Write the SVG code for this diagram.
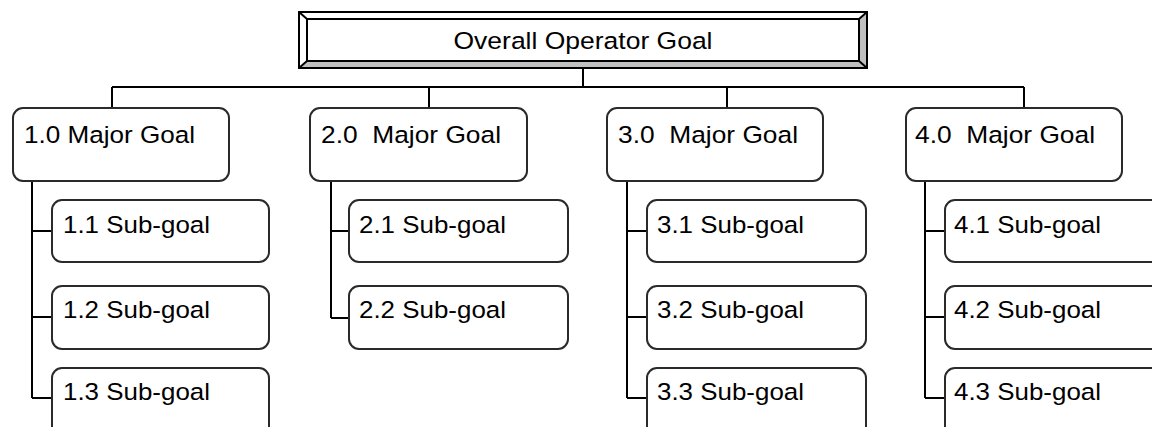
<svg xmlns="http://www.w3.org/2000/svg" width="1152" height="427" viewBox="0 0 1152 427">
  <style>
    text { font-family: "Liberation Sans", Arial, sans-serif; font-size: 24.5px; fill: #000; white-space: pre; }
    .box { fill: #fff; stroke: #2a2a2a; stroke-width: 2; }
    .wire { fill: none; stroke: #000; stroke-width: 2; }
    .frame { stroke: #000; stroke-width: 2; stroke-linejoin: miter; }
  </style>
  <rect width="1152" height="427" fill="#fff"/>

  <!-- connectors -->
  <g id="connectors" class="wire">
    <path d="M583 68V87M112 87H1024M112 87V108M429 87V108M727 87V108M1024 87V108"/>
    <path d="M32 181V398M32 231H52M32 317H52M32 398H52"/>
    <path d="M331 181V318M331 231H349M331 318H349"/>
    <path d="M627 181V398M627 231H647M627 317H647M627 398H647"/>
    <path d="M925 181V398M925 231H945M925 317H945M925 398H945"/>
  </g>

  <!-- top goal, bevelled frame -->
  <g id="overall">
    <rect x="299" y="12" width="568" height="56" fill="#fff" class="frame"/>
    <polygon points="867,12 859,19 859,61 867,68" fill="#c0c0c0"/>
    <polygon points="299,68 307,61 859,61 867,68" fill="#c0c0c0"/>
    <rect x="299" y="12" width="568" height="56" fill="none" class="frame"/>
    <rect x="307" y="19" width="552" height="42" fill="#fff" class="frame"/>
    <path d="M299 12L307 19M867 12L859 19M299 68L307 61M867 68L859 61" class="frame" stroke-width="1.5"/>
    <text x="583" y="49" text-anchor="middle" textLength="259" lengthAdjust="spacingAndGlyphs">Overall Operator Goal</text>
  </g>

  <!-- major goals -->
  <g id="goal-1">
    <rect class="box" x="13" y="108" width="216" height="73" rx="10"/>
    <text x="24" y="143" textLength="171" lengthAdjust="spacingAndGlyphs">1.0 Major Goal</text>
  </g>
  <g id="goal-2">
    <rect class="box" x="310" y="108" width="217" height="73" rx="10"/>
    <text x="321" y="143" textLength="180" lengthAdjust="spacingAndGlyphs">2.0  Major Goal</text>
  </g>
  <g id="goal-3">
    <rect class="box" x="607" y="108" width="216" height="73" rx="10"/>
    <text x="618" y="143" textLength="180" lengthAdjust="spacingAndGlyphs">3.0  Major Goal</text>
  </g>
  <g id="goal-4">
    <rect class="box" x="906" y="108" width="216" height="73" rx="10"/>
    <text x="915" y="143" textLength="180" lengthAdjust="spacingAndGlyphs">4.0  Major Goal</text>
  </g>

  <!-- sub-goals -->
  <g id="sub-1-1"><rect class="box" x="52" y="200" width="217" height="62" rx="10"/><text x="63" y="233" textLength="147" lengthAdjust="spacingAndGlyphs">1.1 Sub-goal</text></g>
  <g id="sub-1-2"><rect class="box" x="52" y="286" width="217" height="63" rx="10"/><text x="63" y="318" textLength="147" lengthAdjust="spacingAndGlyphs">1.2 Sub-goal</text></g>
  <g id="sub-1-3"><rect class="box" x="52" y="368" width="217" height="70" rx="10"/><text x="63" y="400" textLength="147" lengthAdjust="spacingAndGlyphs">1.3 Sub-goal</text></g>

  <g id="sub-2-1"><rect class="box" x="349" y="200" width="219" height="62" rx="10"/><text x="359" y="233" textLength="147" lengthAdjust="spacingAndGlyphs">2.1 Sub-goal</text></g>
  <g id="sub-2-2"><rect class="box" x="349" y="286" width="219" height="63" rx="10"/><text x="359" y="318" textLength="147" lengthAdjust="spacingAndGlyphs">2.2 Sub-goal</text></g>

  <g id="sub-3-1"><rect class="box" x="647" y="200" width="219" height="62" rx="10"/><text x="657" y="233" textLength="147" lengthAdjust="spacingAndGlyphs">3.1 Sub-goal</text></g>
  <g id="sub-3-2"><rect class="box" x="647" y="286" width="219" height="63" rx="10"/><text x="657" y="318" textLength="147" lengthAdjust="spacingAndGlyphs">3.2 Sub-goal</text></g>
  <g id="sub-3-3"><rect class="box" x="647" y="368" width="219" height="70" rx="10"/><text x="657" y="400" textLength="147" lengthAdjust="spacingAndGlyphs">3.3 Sub-goal</text></g>

  <g id="sub-4-1"><rect class="box" x="945" y="200" width="219" height="62" rx="10"/><text x="954" y="233" textLength="147" lengthAdjust="spacingAndGlyphs">4.1 Sub-goal</text></g>
  <g id="sub-4-2"><rect class="box" x="945" y="286" width="219" height="63" rx="10"/><text x="954" y="318" textLength="147" lengthAdjust="spacingAndGlyphs">4.2 Sub-goal</text></g>
  <g id="sub-4-3"><rect class="box" x="945" y="368" width="219" height="70" rx="10"/><text x="954" y="400" textLength="147" lengthAdjust="spacingAndGlyphs">4.3 Sub-goal</text></g>
</svg>
